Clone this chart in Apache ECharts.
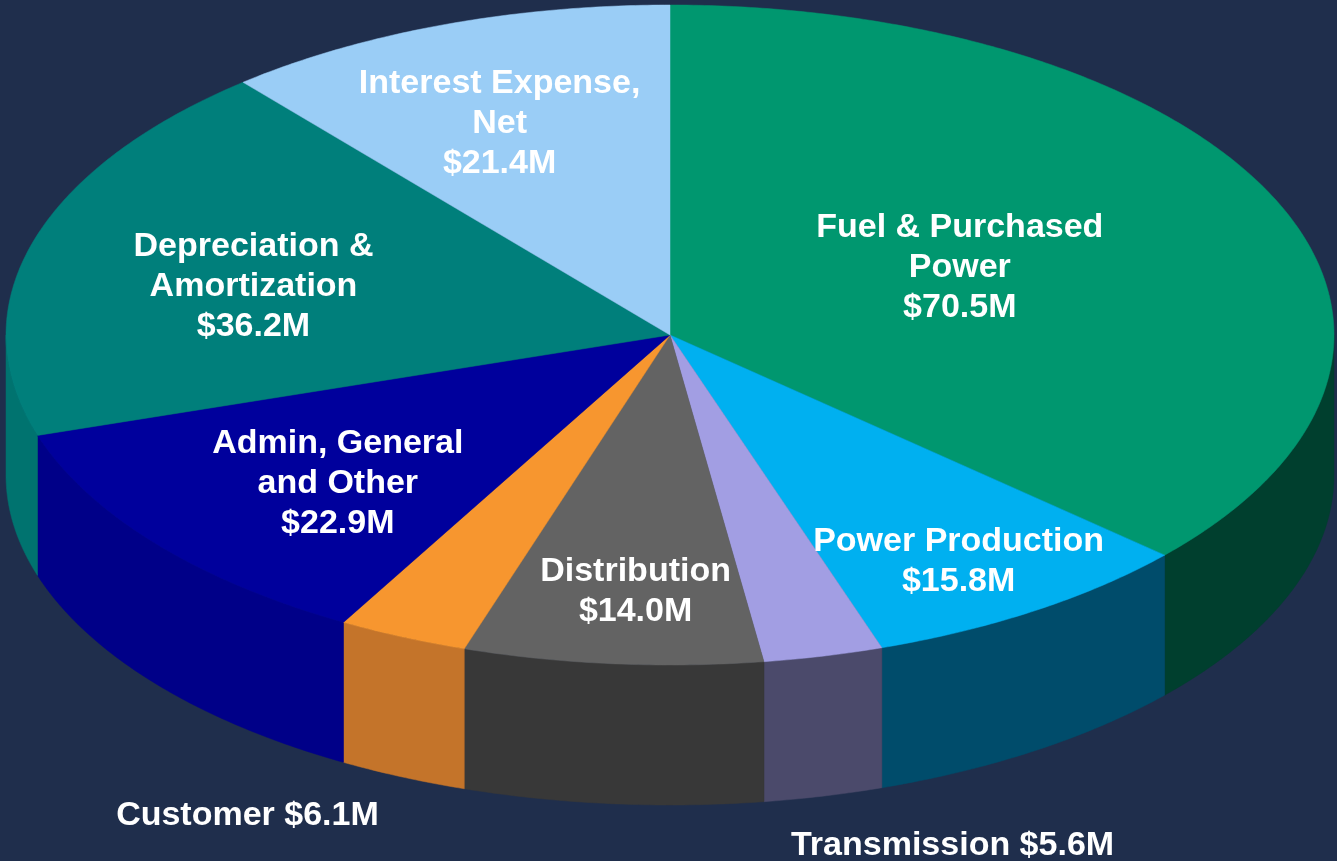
<!DOCTYPE html>
<html>
<head>
<meta charset="utf-8">
<script src="https://cdn.jsdelivr.net/npm/echarts@6/dist/echarts.min.js"></script>
<style>
  html, body { margin: 0; padding: 0; background: #1f2e4c; }
  #chart { width: 1337px; height: 861px; }
</style>
</head>
<body>
<div id="chart"></div>
<script>
// ---- data ----
const categories = ['Fuel & Purchased Power', 'Power Production', 'Transmission', 'Distribution',
  'Customer', 'Admin, General and Other', 'Depreciation & Amortization', 'Interest Expense, Net'];
const values = [70.5, 15.8, 5.6, 14.0, 6.1, 22.9, 36.2, 21.4];
const labelNames = ['Fuel & Purchased\nPower', 'Power Production', 'Transmission', 'Distribution',
  'Customer', 'Admin, General\nand Other', 'Depreciation &\nAmortization', 'Interest Expense,\nNet'];
const outsideLabel = [false, false, true, false, true, false, false, false];

// ---- style / layout ----
const topColors = ['#00976f', '#00b0f0', '#a29ee3', '#636363', '#f7962f', '#00009c', '#007f7b', '#9acdf6'];
const sideColors = ['#003f2e', '#004c6b', '#4b4a6b', '#383838', '#c4742a', '#000088', '#00736f', '#6a8fb0'];
const labelFactors = [[0.478, 0.52], [0.79, 0.81], [1.84, 1.58], [0.6, 0.77],
  [1.58, 1.58], [0.645, 0.70], [0.653, 0.565], [0.75, 0.69]];
const CX = 670, CY = 335, RX = 664, RY = 330, DEPTH = 140, LABEL_DY = 3;

const total = values.reduce((a, b) => a + b, 0);
const starts = [], ends = [];
let acc = 0;
values.forEach(v => { starts.push(acc / total * 360); acc += v; ends.push(acc / total * 360); });

function pt(deg, dy) {
  const r = deg * Math.PI / 180;
  return [CX + RX * Math.sin(r), CY - RY * Math.cos(r) + (dy || 0)];
}
function arc(a1, a2, dy) {
  const pts = [];
  const n = Math.max(2, Math.ceil((a2 - a1) / 0.5));
  for (let k = 0; k <= n; k++) pts.push(pt(a1 + (a2 - a1) * k / n, dy));
  return pts;
}

const seriesData = values.map((v, i) => [i, v]);

function renderSide(params, api) {
  const i = api.value(0);
  const s = Math.max(starts[i], 90), e = Math.min(ends[i], 270);
  if (e <= s) return { type: 'group', children: [] };
  const top = arc(s, e, 0);
  const bottom = arc(s, e, DEPTH).reverse();
  return {
    type: 'polygon',
    shape: { points: top.concat(bottom) },
    style: { fill: sideColors[i], stroke: sideColors[i], lineWidth: 0.5 }
  };
}
function renderTop(params, api) {
  const i = api.value(0);
  const pts = [[CX, CY]].concat(arc(starts[i], ends[i], 0));
  return {
    type: 'polygon',
    shape: { points: pts },
    style: { fill: topColors[i], stroke: topColors[i], lineWidth: 0.5 }
  };
}
function renderLabel(params, api) {
  const i = api.value(0);
  const mid = (starts[i] + ends[i]) / 2 * Math.PI / 180;
  const f = labelFactors[i];
  const x = CX + RX * Math.sin(mid) * f[0];
  const y = CY - RY * Math.cos(mid) * f[1] + LABEL_DY;
  const valText = '$' + api.value(1).toFixed(1) + 'M';
  const text = outsideLabel[i] ? labelNames[i] + ' ' + valText : labelNames[i] + '\n' + valText;
  return {
    type: 'text',
    style: {
      text: text, x: x, y: y, align: 'center', verticalAlign: 'middle',
      fill: '#ffffff', fontSize: 34, fontWeight: 'bold',
      fontFamily: 'Arial, "Liberation Sans", sans-serif', lineHeight: 40
    }
  };
}

const chart = echarts.init(document.getElementById('chart'), null, { renderer: 'canvas' });
chart.setOption({
  backgroundColor: '#1f2e4c',
  animation: false,
  series: [
    { type: 'custom', name: 'sides', coordinateSystem: 'none', z: 1, silent: true,
      renderItem: renderSide, data: seriesData },
    { type: 'custom', name: 'tops', coordinateSystem: 'none', z: 2, silent: true,
      renderItem: renderTop, data: seriesData },
    { type: 'custom', name: 'labels', coordinateSystem: 'none', z: 3, silent: true,
      renderItem: renderLabel, data: seriesData }
  ]
});
</script>
</body>
</html>
